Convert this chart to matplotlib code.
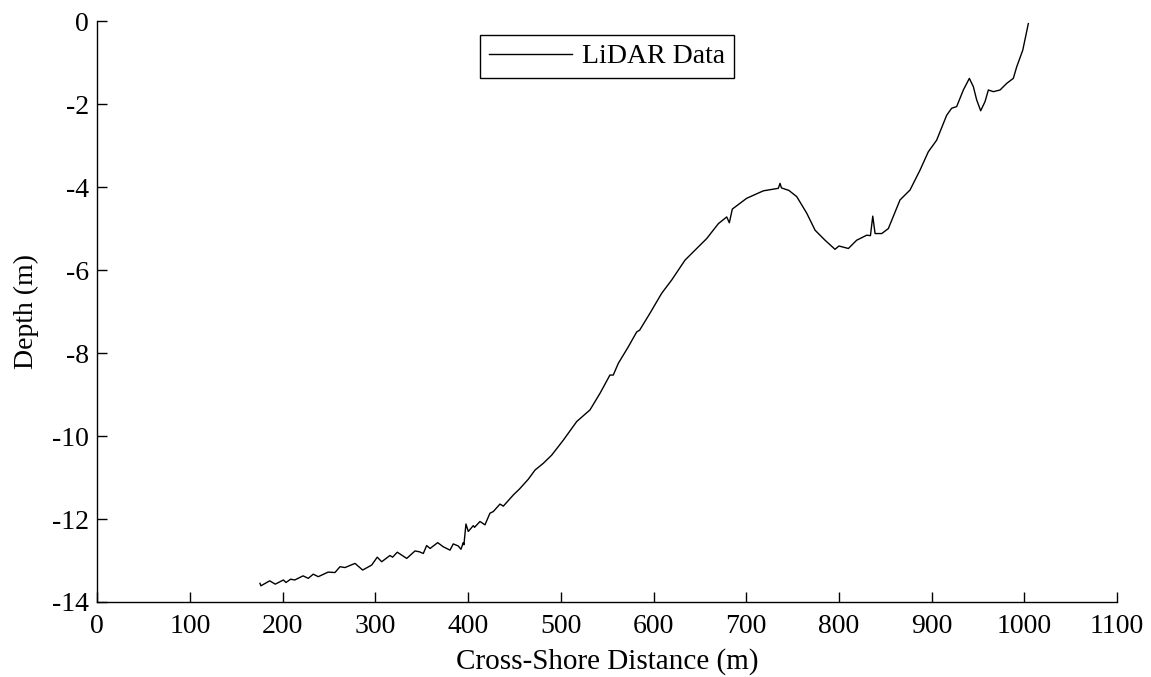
import matplotlib
matplotlib.use('Agg')
import matplotlib.pyplot as plt

# LiDAR profile
distance = [175.5, 176.5, 186, 192, 200.7, 203.6, 208.6, 213, 222, 227.6,
            233, 238.4, 249, 256.4, 261.8, 267.2, 278, 286.3, 296, 302,
            306.8, 315.7, 318.6, 323.6, 333.8, 342.7, 347.4, 351.7, 355.3, 359,
            367.2, 373.3, 380.5, 384, 389.4, 392.3, 394.8, 395.5, 397.7, 400.2,
            405.6, 407, 412.8, 418.2, 423.6, 427.2, 434.4, 438, 448.8, 455.3,
            465, 472.2, 481, 490.2, 502.7, 517.2, 531.5, 542.3, 553, 556.6,
            562, 572.8, 581.9, 585, 596.2, 608.8, 619.6, 634, 644.8, 650.2,
            657.4, 670, 679, 681.8, 685, 700.5, 718.5, 734.6, 736.5, 738,
            746, 754.5, 765.3, 774.3, 785, 795.8, 800, 810.2, 819.2, 830,
            834, 836.5, 839, 846.2, 853.3, 865.9, 876.7, 887.5, 896.4, 905.4,
            916.2, 921.6, 927, 934.2, 940.7, 945, 948.6, 952.9, 957.6, 961.2,
            966.6, 973.8, 981, 988.1, 991.8, 998.3, 1004.3]
depth = [-13.55, -13.61, -13.49, -13.57, -13.47, -13.53, -13.45, -13.47, -13.37, -13.43,
         -13.33, -13.39, -13.28, -13.29, -13.15, -13.17, -13.07, -13.23, -13.11, -12.92,
         -13.03, -12.88, -12.92, -12.80, -12.95, -12.77, -12.79, -12.83, -12.64, -12.71,
         -12.57, -12.67, -12.75, -12.60, -12.65, -12.73, -12.57, -12.62, -12.12, -12.30,
         -12.16, -12.20, -12.06, -12.14, -11.86, -11.82, -11.64, -11.69, -11.42, -11.28,
         -11.04, -10.82, -10.66, -10.46, -10.10, -9.65, -9.37, -8.97, -8.53, -8.53,
         -8.25, -7.85, -7.49, -7.45, -7.04, -6.56, -6.24, -5.76, -5.52, -5.40,
         -5.24, -4.88, -4.72, -4.86, -4.53, -4.27, -4.09, -4.03, -3.91, -4.02,
         -4.08, -4.23, -4.63, -5.04, -5.28, -5.50, -5.42, -5.48, -5.28, -5.16,
         -5.17, -4.70, -5.12, -5.12, -5.00, -4.31, -4.07, -3.59, -3.15, -2.87,
         -2.27, -2.10, -2.06, -1.66, -1.38, -1.58, -1.90, -2.16, -1.94, -1.66,
         -1.70, -1.66, -1.50, -1.38, -1.10, -0.70, -0.06]

x_ticks = list(range(0, 1101, 100))
y_ticks = list(range(-14, 1, 2))

plt.rcParams['font.family'] = ['Liberation Serif', 'DejaVu Serif']
plt.rcParams['font.size'] = 20
plt.rcParams['axes.unicode_minus'] = False

fig = plt.figure(figsize=(11.51, 6.77), dpi=100)
ax = fig.add_axes([0.0845, 0.1108, 0.886, 0.858])

ax.plot(distance, depth, color='black', linewidth=1.0, label='LiDAR Data')

ax.set_xlim(0, 1100)
ax.set_ylim(-14, 0)
ax.set_xticks(x_ticks)
ax.set_yticks(y_ticks)
ax.tick_params(direction='in', length=7, width=1)
ax.tick_params(axis='x', pad=9)
ax.tick_params(axis='y', pad=6)
ax.spines['top'].set_visible(False)
ax.spines['right'].set_visible(False)
ax.spines['left'].set_linewidth(1)
ax.spines['bottom'].set_linewidth(1)

ax.set_xlabel('Cross-Shore Distance (m)', fontsize=21, labelpad=6)
ax.set_ylabel('Depth (m)', labelpad=9)

leg = ax.legend(loc='upper center', bbox_to_anchor=(0.5, 0.976), borderaxespad=0,
                fancybox=False, framealpha=1, edgecolor='black', handlelength=3.0,
                borderpad=0.32, handletextpad=0.35)
leg.get_frame().set_linewidth(1)

fig.savefig('out.png', dpi=100)
